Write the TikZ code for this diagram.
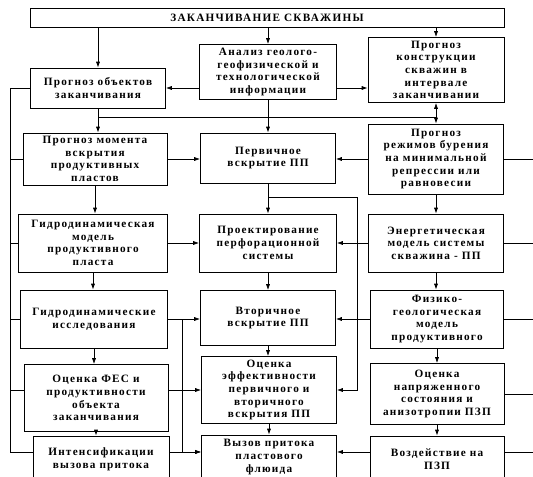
\documentclass[tikz,border=0pt]{standalone}
\usepackage{fontspec}
\setmainfont{Liberation Serif}[LetterSpace=11]
\usepackage{tikz}
\usetikzlibrary{arrows.meta, calc}
\newcommand{\px}{0.03cm}

\begin{document}
\begin{tikzpicture}[x=\px, y=-\px, line width=0.6pt,
    >={Latex[length=5pt, width=3.5pt]},
    box/.style 2 args={draw, line width=0.7pt, align=center, inner sep=0.5pt,
        minimum width=#1*\px, minimum height=#2*\px,
        font=\fontsize{9.6}{10.8}\selectfont\bfseries}]
    \clip (0,0) rectangle (533,476);

    % ==========================================
    % BOXES
    % ==========================================
    \node[box={474}{19}] (Completion) at (267,18) {ЗАКАНЧИВАНИЕ СКВАЖИНЫ};

    % Row 1
    \node[box={135}{40}] (ObjForecast) at (98,88) {Прогноз объектов\\заканчивания};
    \node[box={137}{55}] (GeoAnalysis) at (268,72) {Анализ геолого-\\геофизической и\\технологической\\информации};
    \node[box={136}{65}] (WellDesign) at (436,70) {Прогноз\\конструкции\\скважин в\\интервале\\заканчивании};

    % Row 2
    \node[box={144}{52}] (OpenMoment) at (95,159) {Прогноз момента\\вскрытия\\продуктивных\\пластов};
    \node[box={135}{50}] (PrimOpen) at (268,158) {Первичное\\вскрытие ПП};
    \node[box={135}{70}] (DrillMode) at (436,159) {Прогноз\\режимов бурения\\на минимальной\\репрессии или\\равновесии};

    % Row 3
    \node[box={149}{58}] (HydroModel) at (93,243) {Гидродинамическая\\модель\\продуктивного\\пласта};
    \node[box={137}{58}] (PerfDesign) at (268,243) {Проектирование\\перфорационной\\системы};
    \node[box={135}{58}] (EnergyModel) at (436,243) {Энергетическая\\модель системы\\скважина - ПП};

    % Row 4
    \node[box={147}{58}] (HydroTest) at (94,319) {Гидродинамические\\исследования};
    \node[box={135}{55}] (SecOpen) at (268,318) {Вторичное\\вскрытие ПП};
    \node[box={133}{58}] (PhysModel) at (437,319) {Физико-\\геологическая\\модель\\продуктивного};

    % Row 5
    \node[box={144}{67}] (FesEval) at (96,398) {Оценка ФЕС и\\продуктивности\\объекта\\заканчивания};
    \node[box={135}{67}] (OpenEval) at (269,390) {Оценка\\эффективности\\первичного и\\вторичного\\вскрытия ПП};
    \node[box={134}{61}] (StressEval) at (437,394) {Оценка\\напряженного\\состояния и\\анизотропии ПЗП};

    % Row 6 (cut by the lower edge)
    \node[box={136}{46}] (Stimul) at (101,459) {Интенсификации\\вызова притока};
    \node[box={135}{44}] (Inflow) at (269,457) {Вызов притока\\пластового\\флюида};
    \node[box={134}{46}] (Treat) at (437,459) {Воздействие на\\ПЗП};

    % ==========================================
    % CONNECTORS
    % ==========================================
    \coordinate (LeftBus) at (10,0);
    \coordinate (LowBus) at (182,0);
    \coordinate (MidBus) at (357,0);
    \coordinate (RightEdge) at (533,0);
    \coordinate (Level6) at ($(Stimul.north east)!0.35!(Stimul.south east)$);

    % from the top box
    \draw[->] (Completion.south -| ObjForecast.north) -- (ObjForecast.north);
    \draw[->] (Completion.south -| GeoAnalysis.north) -- (GeoAnalysis.north);
    \draw[->] (Completion.south -| WellDesign.north) -- (WellDesign.north);

    % row 1
    \draw[->] (GeoAnalysis.west |- ObjForecast.east) -- (ObjForecast.east);
    \draw[->] (GeoAnalysis.east |- ObjForecast.east) -- (WellDesign.west |- ObjForecast.east);
    \draw[->] (ObjForecast.south) -- (ObjForecast.south |- OpenMoment.north);
    \draw[->] (GeoAnalysis.south) -- (GeoAnalysis.south |- PrimOpen.north);
    \draw[<->] (WellDesign.south) -- (WellDesign.south |- DrillMode.north);
    \coordinate (Split) at ($(ObjForecast.south)!0.36!(ObjForecast.south |- OpenMoment.north)$);
    \draw (Split) -- (Split -| WellDesign.south);

    % row 2
    \draw[->] (OpenMoment.east) -- (PrimOpen.west |- OpenMoment.east);
    \draw[->] (DrillMode.west) -- (PrimOpen.east |- DrillMode.west);
    \draw (DrillMode.east) -- (DrillMode.east -| RightEdge);
    \draw[->] (OpenMoment.south) -- (OpenMoment.south |- HydroModel.north);
    \draw[->] (PrimOpen.south) -- (PrimOpen.south |- PerfDesign.north);
    \draw[->] (DrillMode.south) -- (DrillMode.south |- EnergyModel.north);
    \coordinate (PrimSplit) at ($(PrimOpen.south)!0.45!(PrimOpen.south |- PerfDesign.north)$);
    \draw[->] (PrimSplit) -| (MidBus |- OpenEval.east) -- (OpenEval.east);

    % row 3
    \draw[->] (HydroModel.east) -- (PerfDesign.west |- HydroModel.east);
    \draw[->] (EnergyModel.west) -- (PerfDesign.east |- EnergyModel.west);
    \draw (EnergyModel.east) -- (EnergyModel.east -| RightEdge);
    \draw[->] (HydroModel.south) -- (HydroModel.south |- HydroTest.north);
    \draw[->] (PerfDesign.south) -- (PerfDesign.south |- SecOpen.north);
    \draw[->] (EnergyModel.south) -- (EnergyModel.south |- PhysModel.north);

    % row 4
    \draw[->] (HydroTest.east) -- (SecOpen.west |- HydroTest.east);
    \draw[->] (PhysModel.west) -- (SecOpen.east |- PhysModel.west);
    \draw (PhysModel.east) -- (PhysModel.east -| RightEdge);
    \draw[->] (LowBus |- HydroTest.east) -- (LowBus |- Level6) -- (Inflow.west |- Level6);
    \draw[->] (HydroTest.south) -- (HydroTest.south |- FesEval.north);
    \draw[->] (SecOpen.south) -- (SecOpen.south |- OpenEval.north);
    \draw[->] (PhysModel.south) -- (PhysModel.south |- StressEval.north);

    % row 5
    \draw[->] (FesEval.east |- OpenEval.west) -- (OpenEval.west);
    \draw (StressEval.east) -- (StressEval.east -| RightEdge);
    \draw[->] (FesEval.south) -- (FesEval.south |- Stimul.north);
    \draw[->] (OpenEval.south) -- (OpenEval.south |- Inflow.north);
    \draw[->] (StressEval.south) -- (StressEval.south |- Treat.north);

    % row 6
    \draw[->] (Stimul.east |- Level6) -- (Inflow.west |- Level6);
    \draw[->] (Treat.west |- Level6) -- (Inflow.east |- Level6);
    \draw (Treat.east |- Level6) -- (RightEdge |- Level6);

    % left bus
    \draw (ObjForecast.west) -- (LeftBus |- ObjForecast.west) -- (LeftBus |- Level6) -- (Stimul.west |- Level6);
    \draw (LeftBus |- OpenMoment.west) -- (OpenMoment.west);
    \draw (LeftBus |- HydroModel.west) -- (HydroModel.west);
    \draw (LeftBus |- HydroTest.west) -- (HydroTest.west);
    \draw (LeftBus |- OpenEval.west) -- (FesEval.west |- OpenEval.west);
\end{tikzpicture}
\end{document}
